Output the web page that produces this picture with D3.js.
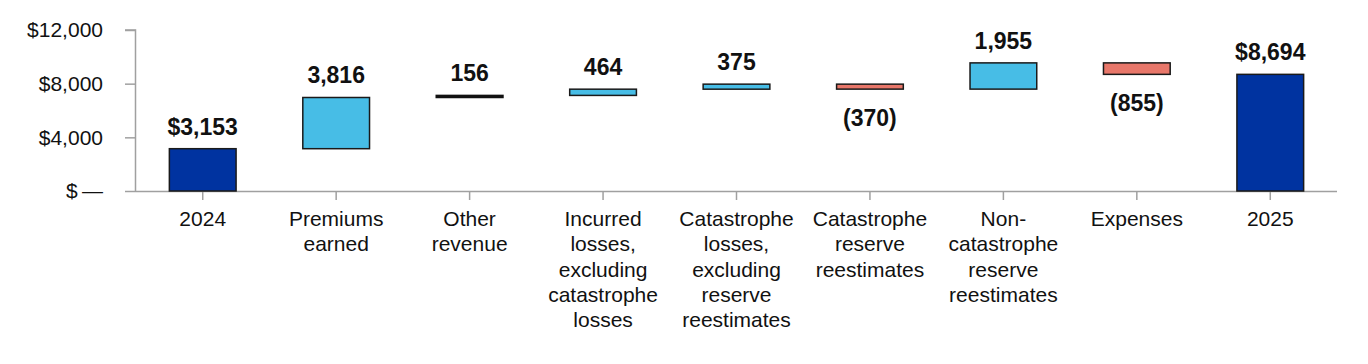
<!DOCTYPE html>
<html><head><meta charset="utf-8">
<script src="https://cdn.jsdelivr.net/npm/d3@7"></script>
<style>html,body{margin:0;padding:0;background:#fff;}svg{display:block;font-family:"Liberation Sans",Arial,Helvetica,sans-serif;}</style>
</head><body><svg id="c" width="1368" height="364"></svg>
<script>
const categories = ["2024","Premiums earned","Other revenue","Incurred losses, excluding catastrophe losses","Catastrophe losses, excluding reserve reestimates","Catastrophe reserve reestimates","Non-catastrophe reserve reestimates","Expenses","2025"];
const categoryLines = [["2024"],["Premiums","earned"],["Other","revenue"],["Incurred","losses,","excluding","catastrophe","losses"],["Catastrophe","losses,","excluding","reserve","reestimates"],["Catastrophe","reserve","reestimates"],["Non-","catastrophe","reserve","reestimates"],["Expenses"],["2025"]];
const values = [3153, 3816, 156, 464, 375, -370, 1955, -855, 8694];
const kinds = ["total","up","other","up","up","down","up","down","total"];
const valueLabels = ["$3,153","3,816","156","464","375","(370)","1,955","(855)","$8,694"];
const yTicks = [0, 4000, 8000, 12000];
const yTickLabels = ["$\u2009—","$4,000","$8,000","$12,000"];

const colors = {total:"#0033a0", up:"#47bde6", down:"#e8776a", other:"#111"};

let run = 0;
const bars = values.map((v,i)=>{
  let y0,y1;
  if(kinds[i]==="total"){ y0=0; y1=v; run=v; }
  else { y0=run; y1=run+v; run=y1; }
  return {cat:categories[i], lo:Math.min(y0,y1), hi:Math.max(y0,y1), v, kind:kinds[i], label:valueLabels[i], lines:categoryLines[i]};
});

const svg = d3.select("#c");
const x = d3.scaleBand().domain(categories).range([136,1337]).paddingInner(0.5).paddingOuter(0.25);
const y = d3.scaleLinear().domain([0,12000]).range([191,30]);

const yAxis = svg.append("g").attr("transform","translate(136,0)")
  .call(d3.axisLeft(y).tickValues(yTicks).tickSize(11).tickPadding(22).tickFormat((d,i)=>yTickLabels[i]));
yAxis.select(".domain").attr("stroke","#a0a0a0").attr("stroke-width",1.5).attr("d","M-0.5,191V30H-11");
yAxis.selectAll(".tick line").attr("stroke","#a0a0a0").attr("stroke-width",1.5);
yAxis.selectAll(".tick text").attr("font-size",21).attr("fill","#111").attr("font-family","Liberation Sans, Arial, sans-serif");

const xAxis = svg.append("g").attr("transform","translate(0,191)")
  .call(d3.axisBottom(x).tickSize(9).tickFormat(""));
xAxis.select(".domain").attr("stroke","#a0a0a0").attr("stroke-width",1.5).attr("d","M136,0.5H1337");
xAxis.selectAll(".tick line").attr("stroke","#a0a0a0").attr("stroke-width",1.5);
xAxis.selectAll(".tick").each(function(d,i){
  const t = d3.select(this).append("text").attr("fill","#111").attr("font-size",21).attr("text-anchor","middle");
  bars[i].lines.forEach((ln,j)=>{
    t.append("tspan").attr("x",0).attr("y",35+j*25.3).text(ln);
  });
});

const g = svg.append("g");
g.selectAll("rect").data(bars).join("rect")
  .attr("x",d=>x(d.cat))
  .attr("width",x.bandwidth())
  .attr("y",d=>y(d.hi))
  .attr("height",d=>Math.max(1,y(d.lo)-y(d.hi)))
  .attr("fill",d=>colors[d.kind])
  .attr("stroke",d=>d.kind==="other"?"#111":"#1a1a1a")
  .attr("stroke-width",1.5);

g.selectAll("text.v").data(bars).join("text").attr("class","v")
  .attr("x",d=>x(d.cat)+x.bandwidth()/2)
  .attr("y",d=>d.v<0 ? y(d.lo)+37 : y(d.hi)-14)
  .attr("text-anchor","middle").attr("font-weight","bold").attr("font-size",23).attr("fill","#111")
  .text(d=>d.label);
</script></body></html>
